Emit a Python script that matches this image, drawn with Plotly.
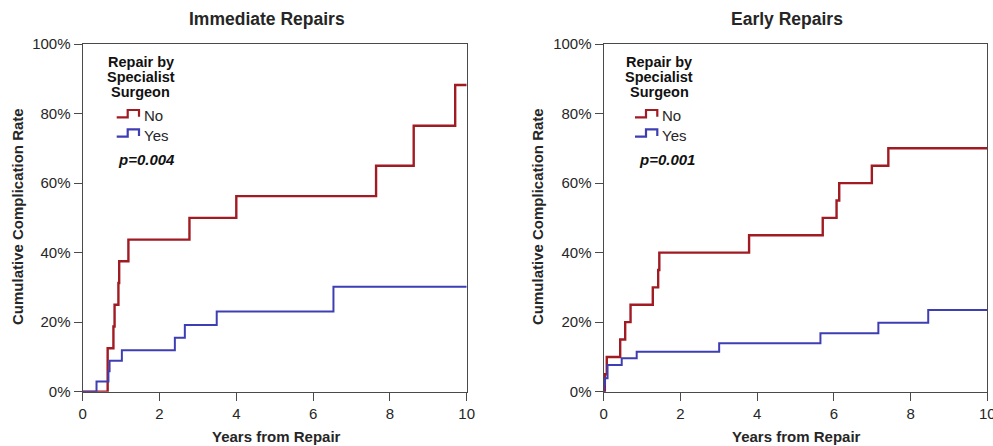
import plotly.graph_objects as go

# ---------------- data ----------------
panel_titles = ["Immediate Repairs", "Early Repairs"]
p_values = ["p=0.004", "p=0.001"]
group_names = ["No", "Yes"]

imm_no_x = [0, 0.65, 0.80, 0.83, 0.93, 0.95, 1.19, 2.78, 4.00, 7.64, 8.62, 9.70, 10]
imm_no_y = [0, 12.5, 18.75, 25.0, 31.25, 37.5, 43.75, 50.0, 56.25, 65.0, 76.5, 88.2, 88.2]

imm_yes_x = [0, 0.36, 0.67, 0.70, 1.02, 2.40, 2.66, 3.49, 6.53, 10]
imm_yes_y = [0, 2.9, 5.9, 8.9, 11.9, 15.5, 19.2, 23.1, 30.2, 30.2]

early_no_x = [0, 0.03, 0.08, 0.43, 0.56, 0.70, 1.28, 1.42, 1.45, 3.79, 5.71, 6.07, 6.14, 6.99, 7.42, 10]
early_no_y = [0, 5, 10, 15, 20, 25, 30, 35, 40, 45, 50, 55, 60, 65, 70, 70]

early_yes_x = [0, 0.01, 0.03, 0.10, 0.47, 0.86, 3.01, 5.65, 7.16, 8.46, 10]
early_yes_y = [0, 2.0, 3.9, 7.7, 9.6, 11.5, 13.9, 16.8, 19.8, 23.5, 23.5]

x_ticks = [0, 2, 4, 6, 8, 10]
y_ticks = [0, 20, 40, 60, 80, 100]
y_tick_labels = ["%d%%" % v for v in y_ticks]

# ---------------- styling ----------------
W, H = 993, 446
RED = "#A01B22"
BLUE = "#3E3EB4"
AXIS = "#4a4a4a"
TXT = "#262626"
FONT = "Liberation Sans, Arial, Helvetica, sans-serif"

def px(x):
    return x / W

def py(y):
    return 1 - y / H

fig = go.Figure()

series = [
    ("x", "y", imm_no_x, imm_no_y, RED, 2.4),
    ("x", "y", imm_yes_x, imm_yes_y, BLUE, 2.0),
    ("x2", "y2", early_no_x, early_no_y, RED, 2.4),
    ("x2", "y2", early_yes_x, early_yes_y, BLUE, 2.0),
]
for xa, ya, xs, ys, col, w in series:
    fig.add_trace(go.Scatter(
        x=xs, y=ys, mode="lines", line=dict(shape="hv", color=col, width=w),
        xaxis=xa, yaxis=ya, showlegend=False, hoverinfo="skip"))

axis_common = dict(
    showgrid=False, zeroline=False, showline=True, linecolor=AXIS, linewidth=1.3,
    mirror=True, ticks="outside", ticklen=8, tickwidth=1.3, tickcolor=AXIS,
    tickfont=dict(family=FONT, size=15, color=TXT), automargin=False,
    ticklabeloverflow="allow",
)

x_domains = [[82.7 / W, 466.7 / W], [603.7 / W, 987.3 / W]]
y_domain = [(H - 391.7) / H, (H - 44) / H]

fig.update_layout(
    width=W, height=H, margin=dict(l=0, r=0, t=0, b=0),
    paper_bgcolor="white", plot_bgcolor="white",
    xaxis=dict(domain=x_domains[0], range=[0, 10], tickmode="array", tickvals=x_ticks,
               ticktext=[str(v) for v in x_ticks], anchor="y", **axis_common),
    yaxis=dict(domain=y_domain, range=[0, 100], tickmode="array", tickvals=y_ticks,
               ticktext=y_tick_labels, anchor="x", **axis_common),
    xaxis2=dict(domain=x_domains[1], range=[0, 10], tickmode="array", tickvals=x_ticks,
                ticktext=[str(v) for v in x_ticks], anchor="y2", **axis_common),
    yaxis2=dict(domain=y_domain, range=[0, 100], tickmode="array", tickvals=y_ticks,
                ticktext=y_tick_labels, anchor="x2", **axis_common),
    showlegend=False,
)

ann = []
shapes = []
title_x = [266.7, 786.7]
xtitle_x = [276, 796]
ytitle_x = [18, 538]
leg_center = [140.5, 659.2]
leg_shift = [0, 518.3]
for i in range(2):
    ann.append(dict(text="<b>%s</b>" % panel_titles[i], x=px(title_x[i]), y=py(19.5),
                    xref="paper", yref="paper", showarrow=False, xanchor="center", yanchor="middle",
                    font=dict(family=FONT, size=17.5, color=TXT)))
    ann.append(dict(text="<b>Years from Repair</b>", x=px(xtitle_x[i]), y=py(436),
                    xref="paper", yref="paper", showarrow=False, xanchor="center", yanchor="middle",
                    font=dict(family=FONT, size=15, color=TXT)))
    ann.append(dict(text="<b>Cumulative Complication Rate</b>", x=px(ytitle_x[i]), y=py(217),
                    xref="paper", yref="paper", showarrow=False, xanchor="center", yanchor="middle",
                    textangle=-90, font=dict(family=FONT, size=15, color=TXT)))
    for line, yy in zip(["Repair by", "Specialist", "Surgeon"], [62, 77, 92]):
        ann.append(dict(text="<b>%s</b>" % line, x=px(leg_center[i]), y=py(yy),
                        xref="paper", yref="paper", showarrow=False, xanchor="center", yanchor="middle",
                        font=dict(family=FONT, size=14.5, color="#111")))
    s = leg_shift[i]
    for name, col, yoff in [(group_names[0], RED, 0), (group_names[1], BLUE, 19.3)]:
        pts = [(116.7, 117.3), (127.7, 117.3), (127.7, 110), (139, 110), (139, 116.7)]
        path = "M " + " L ".join("%.5f,%.5f" % (px(a + s), py(b + yoff)) for a, b in pts)
        shapes.append(dict(type="path", path=path, xref="paper", yref="paper",
                           line=dict(color=col, width=2.2)))
        ann.append(dict(text=name, x=px(141.7 + s), y=py(116 + yoff),
                        xref="paper", yref="paper", showarrow=False, xanchor="left", yanchor="middle",
                        font=dict(family=FONT, size=15, color=TXT)))
    ann.append(dict(text="<b><i>%s</i></b>" % p_values[i], x=px(115.7 + s + (3 if i else 0)), y=py(160),
                    xref="paper", yref="paper", showarrow=False, xanchor="left", yanchor="middle",
                    font=dict(family=FONT, size=15, color="#111")))

fig.update_layout(annotations=ann, shapes=shapes)
fig.write_html("out.html", config={"displayModeBar": False},
               post_script="document.body.style.margin='0';document.body.style.padding='0';")
